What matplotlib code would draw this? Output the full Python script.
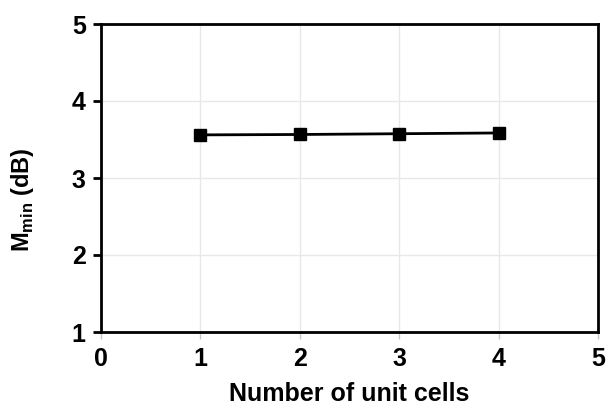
from matplotlib import pyplot as plt
import numpy as np

# data
cells = [1, 2, 3, 4]
m_min = [3.56, 3.565, 3.575, 3.585]
x_ticks = [0, 1, 2, 3, 4, 5]
y_ticks = [1, 2, 3, 4, 5]

plt.rcParams['font.family'] = ['Liberation Sans', 'DejaVu Sans']
plt.rcParams['font.weight'] = 'bold'
plt.rcParams['mathtext.fontset'] = 'custom'
plt.rcParams['mathtext.rm'] = 'Liberation Sans'
plt.rcParams['mathtext.bf'] = 'Liberation Sans:bold'

fig = plt.figure(figsize=(6.08, 4.12), dpi=100)
ax = fig.add_axes([101/608, 80/412, 497/608, 308/412])

ax.plot(cells, m_min, color="black", lw=2, marker="s", ms=8.5, zorder=3)

ax.set_xlim(0, 5)
ax.set_ylim(1, 5)
ax.set_xticks(x_ticks)
ax.set_yticks(y_ticks)
ax.grid(True, color="#e8e8e8", lw=1)
ax.set_axisbelow(True)

for s in ax.spines.values():
    s.set_linewidth(2)
    s.set_color("black")

ax.tick_params(axis="y", direction="out", length=6, width=2, labelsize=18, pad=5)
ax.tick_params(axis="x", direction="out", length=5, width=1, color="#c8c8c8",
               labelsize=18, pad=6)

ax.set_xlabel("Number of unit cells", fontsize=18, fontweight="bold", labelpad=8)
ax.set_ylabel(r"M$_{\rm min}$ (dB)", fontsize=17, fontweight="bold")
ax.yaxis.set_label_coords(-0.13, 0.43)

fig.savefig("out.png", dpi=100)
